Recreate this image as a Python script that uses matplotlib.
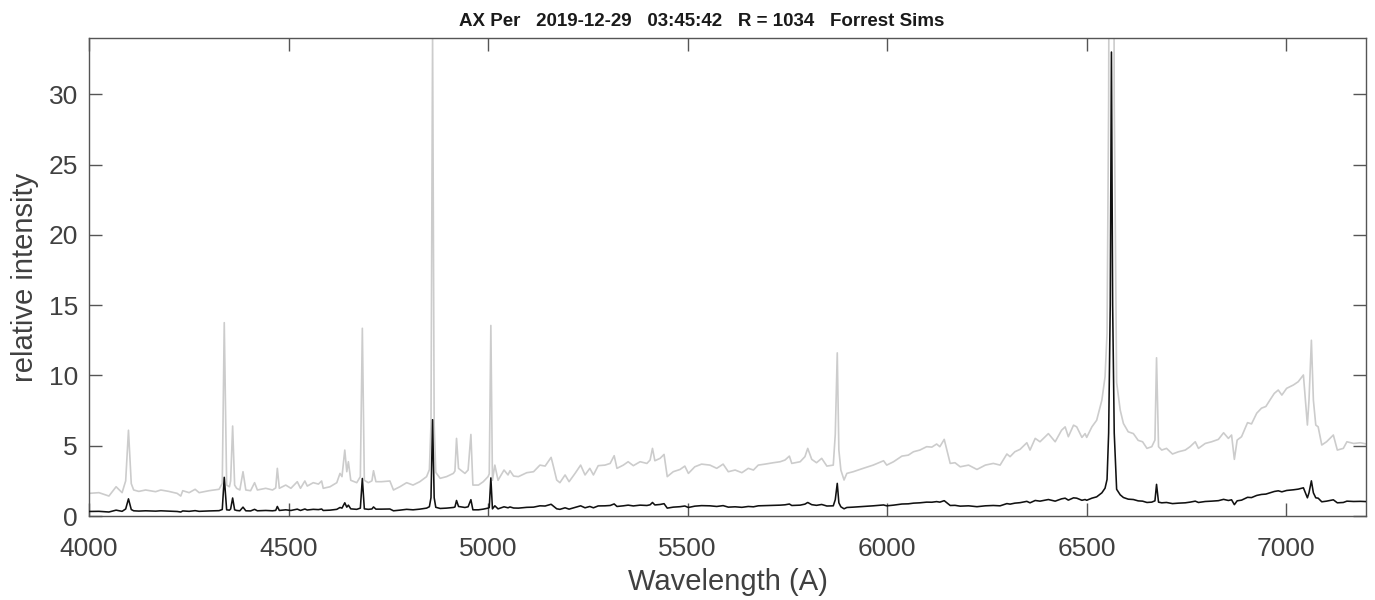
import matplotlib
matplotlib.use("Agg")
import matplotlib.pyplot as plt
import numpy as np

# Wavelength (A) and relative intensity
wavelength = [
    4000, 4025, 4050, 4068, 4083, 4092, 4099, 4106, 4112, 4125, 4142, 4167, 4180, 4200,
    4221, 4230, 4235, 4251, 4266, 4276, 4301, 4326, 4334, 4339, 4345, 4352, 4355, 4360,
    4365, 4370, 4378, 4386, 4393, 4405, 4415, 4422, 4443, 4460, 4468, 4472, 4477, 4493,
    4506, 4522, 4530, 4541, 4547, 4562, 4575, 4583, 4587, 4604, 4621, 4629, 4634, 4641,
    4646, 4650, 4656, 4671, 4680, 4685, 4690, 4700, 4709, 4713, 4719, 4733, 4754, 4763,
    4779, 4796, 4812, 4829, 4846, 4853, 4857, 4861, 4865, 4869, 4880, 4896, 4913, 4917,
    4921, 4926, 4942, 4950, 4957, 4962, 4976, 4988, 5000, 5003, 5007, 5011, 5017, 5025,
    5040, 5050, 5055, 5064, 5076, 5097, 5114, 5130, 5143, 5158, 5164, 5172, 5180, 5193,
    5203, 5218, 5232, 5243, 5255, 5264, 5276, 5293, 5306, 5316, 5323, 5339, 5351, 5364,
    5381, 5398, 5406, 5412, 5418, 5431, 5441, 5449, 5464, 5481, 5493, 5502, 5518, 5535,
    5556, 5573, 5589, 5602, 5619, 5636, 5652, 5665, 5677, 5694, 5715, 5732, 5744, 5755,
    5761, 5782, 5794, 5801, 5811, 5823, 5836, 5849, 5865, 5870, 5875, 5879, 5884, 5892,
    5899, 5915, 5940, 5965, 5991, 5999, 6016, 6037, 6053, 6066, 6082, 6099, 6112, 6124,
    6132, 6143, 6158, 6170, 6183, 6204, 6225, 6246, 6266, 6283, 6300, 6308, 6320, 6333,
    6350, 6358, 6371, 6383, 6404, 6421, 6437, 6446, 6454, 6467, 6475, 6488, 6496, 6500,
    6513, 6525, 6538, 6546, 6551, 6555, 6559, 6562, 6565, 6569, 6575, 6584, 6592, 6604,
    6617, 6629, 6640, 6651, 6663, 6671, 6675, 6680, 6688, 6700, 6715, 6730, 6747, 6759,
    6772, 6780, 6797, 6813, 6830, 6843, 6855, 6863, 6870, 6877, 6888, 6903, 6913, 6926,
    6938, 6949, 6959, 6970, 6980, 6989, 7001, 7018, 7030, 7043, 7048, 7053, 7057, 7063,
    7068, 7074, 7080, 7089, 7101, 7118, 7128, 7143, 7152, 7169, 7186, 7202,
]
flux = [
    0.322, 0.332, 0.284, 0.416, 0.332, 0.500, 1.220, 0.460, 0.370, 0.350, 0.370, 0.346, 0.370, 0.350,
    0.322, 0.284, 0.360, 0.332, 0.380, 0.332, 0.360, 0.380, 0.464, 2.750, 0.440, 0.416, 0.500, 1.280,
    0.440, 0.394, 0.370, 0.630, 0.370, 0.360, 0.474, 0.370, 0.394, 0.370, 0.400, 0.678, 0.394, 0.440,
    0.394, 0.488, 0.394, 0.498, 0.426, 0.474, 0.454, 0.498, 0.394, 0.416, 0.474, 0.606, 0.560, 0.938,
    0.630, 0.772, 0.508, 0.474, 0.560, 2.670, 0.508, 0.474, 0.500, 0.644, 0.488, 0.488, 0.498, 0.370,
    0.416, 0.474, 0.440, 0.488, 0.560, 0.660, 1.300, 6.850, 1.300, 0.620, 0.536, 0.560, 0.606, 0.640,
    1.104, 0.678, 0.606, 0.654, 1.160, 0.440, 0.440, 0.488, 0.560, 0.600, 2.710, 0.508, 0.724, 0.508,
    0.654, 0.584, 0.644, 0.568, 0.560, 0.616, 0.630, 0.724, 0.710, 0.834, 0.700, 0.512, 0.474, 0.584,
    0.488, 0.606, 0.724, 0.584, 0.678, 0.584, 0.716, 0.724, 0.748, 0.858, 0.678, 0.724, 0.772, 0.716,
    0.772, 0.748, 0.796, 0.962, 0.786, 0.820, 0.876, 0.560, 0.630, 0.662, 0.710, 0.606, 0.700, 0.738,
    0.724, 0.678, 0.738, 0.630, 0.654, 0.616, 0.678, 0.654, 0.724, 0.738, 0.758, 0.772, 0.796, 0.852,
    0.748, 0.772, 0.844, 0.962, 0.806, 0.758, 0.820, 0.710, 0.724, 1.160, 2.320, 0.940, 0.654, 0.512,
    0.606, 0.630, 0.678, 0.724, 0.786, 0.724, 0.772, 0.852, 0.866, 0.914, 0.938, 0.986, 0.980, 1.024,
    0.986, 1.090, 0.748, 0.758, 0.700, 0.724, 0.662, 0.724, 0.748, 0.724, 0.882, 0.844, 0.914, 0.948,
    1.042, 0.938, 1.104, 1.056, 1.172, 1.056, 1.220, 1.268, 1.128, 1.292, 1.268, 1.118, 1.172, 1.118,
    1.268, 1.362, 1.648, 1.980, 2.600, 5.900, 15.00, 33.00, 15.00, 5.900, 1.900, 1.506, 1.316, 1.198,
    1.172, 1.076, 1.056, 0.962, 0.986, 1.080, 2.250, 0.986, 0.938, 0.962, 0.882, 0.914, 0.938, 0.986,
    1.056, 0.962, 1.032, 1.056, 1.090, 1.184, 1.104, 1.152, 0.806, 1.080, 1.128, 1.328, 1.310, 1.462,
    1.534, 1.558, 1.648, 1.744, 1.792, 1.720, 1.816, 1.864, 1.910, 2.006, 1.648, 1.294, 1.648, 2.500,
    1.648, 1.294, 1.268, 1.010, 1.056, 1.152, 0.938, 0.962, 1.056, 1.032, 1.042, 1.024,
]
magnification = 5  # grey trace shows the spectrum multiplied by 5

x_ticks = [4000, 4500, 5000, 5500, 6000, 6500, 7000]
y_ticks = [0, 5, 10, 15, 20, 25, 30]
title_text = "AX Per   2019-12-29   03:45:42   R = 1034   Forrest Sims"

plt.rcParams['font.family'] = ['Liberation Sans', 'DejaVu Sans']

fig = plt.figure(figsize=(13.75, 6.0), dpi=100)
ax = fig.add_axes([0.0647, 0.14, 0.9288, 0.7967])

wl = np.array(wavelength)
fl = np.array(flux)
ax.plot(wl, fl * magnification, color='#cccccc', lw=1.2, zorder=2)
ax.plot(wl, fl, color='#111111', lw=1.15, zorder=3)

ax.set_xlim(4000, 7200)
ax.set_ylim(0, 34)
ax.set_xticks(x_ticks)
ax.set_yticks(y_ticks)

edge = '#555555'
for s in ax.spines.values():
    s.set_color(edge)
    s.set_linewidth(1.0)
ax.tick_params(direction='in', length=9.5, width=1.0, color=edge,
               top=True, right=True, labelsize=19, labelcolor='#404040')
ax.tick_params(axis='x', pad=15)
ax.tick_params(axis='y', pad=8)

ax.set_xlabel("Wavelength (A)", fontsize=21, color='#404040', labelpad=5)
ax.set_ylabel("relative intensity", fontsize=21, color='#404040', labelpad=7)
ax.text(0.48, 1.016, title_text, transform=ax.transAxes, ha='center', va='bottom',
        fontsize=13.5, fontweight='bold', color='#1a1a1a')

fig.savefig("out.png", dpi=100)
